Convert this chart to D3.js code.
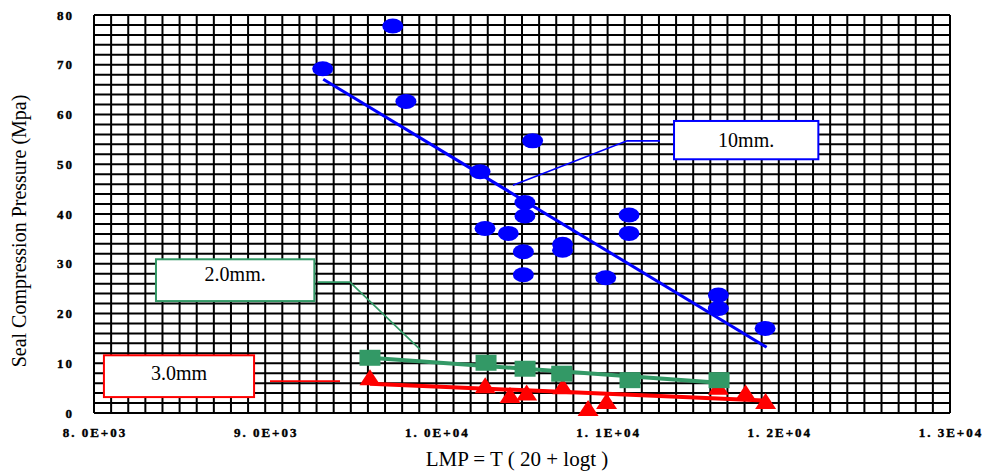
<!DOCTYPE html>
<html lang="en">
<head>
<meta charset="UTF-8">
<title>Seal Compression Pressure vs LMP</title>
<script src="https://d3js.org/d3.v7.min.js"></script>
<style>
  body { margin: 0; background: #fff; }
</style>
</head>
<body>
<svg id="chart" width="983" height="473"></svg>
<script>

// 10mm. series (blue circles)
const lmp10 = [9336, 9745, 9822, 10562, 10255, 10517, 10517, 10284, 10420, 10508, 10508, 10737, 10737, 11125, 11125, 10989, 11647, 11647, 11920];
const press10 = [69.2, 77.8, 62.6, 54.7, 48.5, 42.3, 39.6, 37.1, 36.1, 32.4, 27.8, 33.9, 32.7, 39.8, 36.1, 27.2, 23.7, 21.0, 17.0];

// 2.0mm. series (green squares)
const lmp20 = [9612, 10290, 10518, 10732, 11131, 11651];
const press20 = [11.1, 10.1, 8.9, 7.9, 6.6, 6.6];

// 3.0mm series (red triangles)
const lmp30 = [9612, 10285, 10430, 10527, 10738, 10886, 10994, 11647, 11806, 11923];
const press30 = [7.2, 5.6, 3.6, 4.1, 5.4, 1.0, 2.4, 5.3, 4.1, 2.4];

// trend lines (start / end)
const trend10 = [[9339, 67.1], [11929, 13.2]];
const trend20 = [[9612, 11.1], [11651, 6.1]];
const trend30 = [[9612, 5.9], [11925, 2.5]];

// axes
const xTicks = [8000, 9000, 10000, 11000, 12000, 13000];
const xTickLabels = ["8. 0E+03", "9. 0E+03", "1. 0E+04", "1. 1E+04", "1. 2E+04", "1. 3E+04"];
const yTicks = [0, 10, 20, 30, 40, 50, 60, 70, 80];

window.onload = function () {

    const svg = d3.select("#chart");
    const left = 94, right = 950, top = 15, bottom = 413;

    const x = d3.scaleLinear().domain([8000, 13000]).range([left, right]);
    const y = d3.scaleLinear().domain([0, 80]).range([bottom, top]);

    const blue = "#0000ff", green = "#339966", red = "#ff0000";

    // grid
    const grid = svg.append("g").attr("stroke", "#000").attr("stroke-width", 2);
    grid.selectAll("line.v")
        .data(d3.range(8000, 13001, 100))
        .enter().append("line")
        .attr("class", "v")
        .attr("x1", d => x(d)).attr("x2", d => x(d))
        .attr("y1", y(0)).attr("y2", y(80));
    grid.selectAll("line.h")
        .data(d3.range(0, 81, 2))
        .enter().append("line")
        .attr("class", "h")
        .attr("x1", x(8000)).attr("x2", x(13000))
        .attr("y1", d => y(d)).attr("y2", d => y(d));

    // tick labels (slight stroke to thicken the bold face)
    svg.selectAll("text.xt")
        .data(xTicks)
        .enter().append("text")
        .attr("class", "xt")
        .attr("x", d => x(d) + 1)
        .attr("y", 437)
        .attr("text-anchor", "middle")
        .attr("stroke", "#000").attr("stroke-width", 0.4)
        .style("font-family", "Liberation Serif")
        .style("font-weight", "bold")
        .style("font-size", "13px")
        .style("letter-spacing", "2px")
        .text((d, i) => xTickLabels[i]);

    svg.selectAll("text.yt")
        .data(yTicks)
        .enter().append("text")
        .attr("class", "yt")
        .attr("x", 74)
        .attr("y", d => y(d) + 4.5)
        .attr("text-anchor", "end")
        .attr("stroke", "#000").attr("stroke-width", 0.4)
        .style("font-family", "Liberation Serif")
        .style("font-weight", "bold")
        .style("font-size", "13px")
        .style("letter-spacing", "2px")
        .text(d => d);

    // axis titles
    svg.append("text")
        .attr("x", 517).attr("y", 466)
        .attr("text-anchor", "middle")
        .style("font-family", "Liberation Serif")
        .style("font-size", "21px")
        .text("LMP = T ( 20 + logt )");

    svg.append("text")
        .attr("transform", "translate(26,231) rotate(-90)")
        .attr("text-anchor", "middle")
        .style("font-family", "Liberation Serif")
        .style("font-size", "20px")
        .text("Seal Compression Pressure (Mpa)");

    const lineGen = d3.line().x(d => x(d[0])).y(d => y(d[1]));

    // 3.0mm series
    svg.append("path")
        .attr("d", lineGen(trend30))
        .attr("fill", "none").attr("stroke", red).attr("stroke-width", 4);
    svg.selectAll("path.tri")
        .data(lmp30.map((v, i) => [v, press30[i]]))
        .enter().append("path")
        .attr("class", "tri")
        .attr("d", d => {
            const cx = x(d[0]), cy = y(d[1]);
            return `M${cx - 10.5},${cy + 8}L${cx},${cy - 8}L${cx + 10.5},${cy + 8}Z`;
        })
        .attr("fill", red);

    // 2.0mm. series
    svg.append("path")
        .attr("d", lineGen(trend20))
        .attr("fill", "none").attr("stroke", green).attr("stroke-width", 4);
    svg.selectAll("rect.sq")
        .data(lmp20.map((v, i) => [v, press20[i]]))
        .enter().append("rect")
        .attr("class", "sq")
        .attr("x", d => x(d[0]) - 10.5)
        .attr("y", d => y(d[1]) - 8)
        .attr("width", 21).attr("height", 16)
        .attr("fill", green);

    // 10mm. series
    svg.append("path")
        .attr("d", lineGen(trend10))
        .attr("fill", "none").attr("stroke", blue).attr("stroke-width", 3);
    svg.selectAll("ellipse.dot")
        .data(lmp10.map((v, i) => [v, press10[i]]))
        .enter().append("ellipse")
        .attr("class", "dot")
        .attr("cx", d => x(d[0]))
        .attr("cy", d => y(d[1]))
        .attr("rx", 10.5).attr("ry", 7.5)
        .attr("fill", blue);

    // callouts: box corners and leader points in data units
    const callouts = [
        {label: "10mm.", color: blue, box: [11388, 58.7, 12231, 51.0],
         leader: [[10447, 45.8], [11114, 54.7], [11306, 54.7]], ty: 147},
        {label: "2.0mm.", color: green, box: [8362, 30.9, 9287, 22.5],
         leader: [[9308, 26.3], [9495, 26.3], [9904, 12.8]], ty: 281},
        {label: "3.0mm", color: red, box: [8058, 11.6, 8935, 3.2],
         leader: [[9028, 6.4], [9437, 6.4]], ty: 380}
    ];

    callouts.forEach(c => {
        svg.append("path")
            .attr("d", lineGen(c.leader))
            .attr("fill", "none").attr("stroke", c.color).attr("stroke-width", 1.6);
        svg.append("rect")
            .attr("x", x(c.box[0])).attr("y", y(c.box[1]))
            .attr("width", x(c.box[2]) - x(c.box[0]))
            .attr("height", y(c.box[3]) - y(c.box[1]))
            .attr("fill", "#fff").attr("stroke", c.color).attr("stroke-width", 2);
        svg.append("text")
            .attr("x", (x(c.box[0]) + x(c.box[2])) / 2)
            .attr("y", c.ty)
            .attr("text-anchor", "middle")
            .style("font-family", "Liberation Serif")
            .style("font-size", "20px")
            .text(c.label);
    });
}

</script>
</body>
</html>
